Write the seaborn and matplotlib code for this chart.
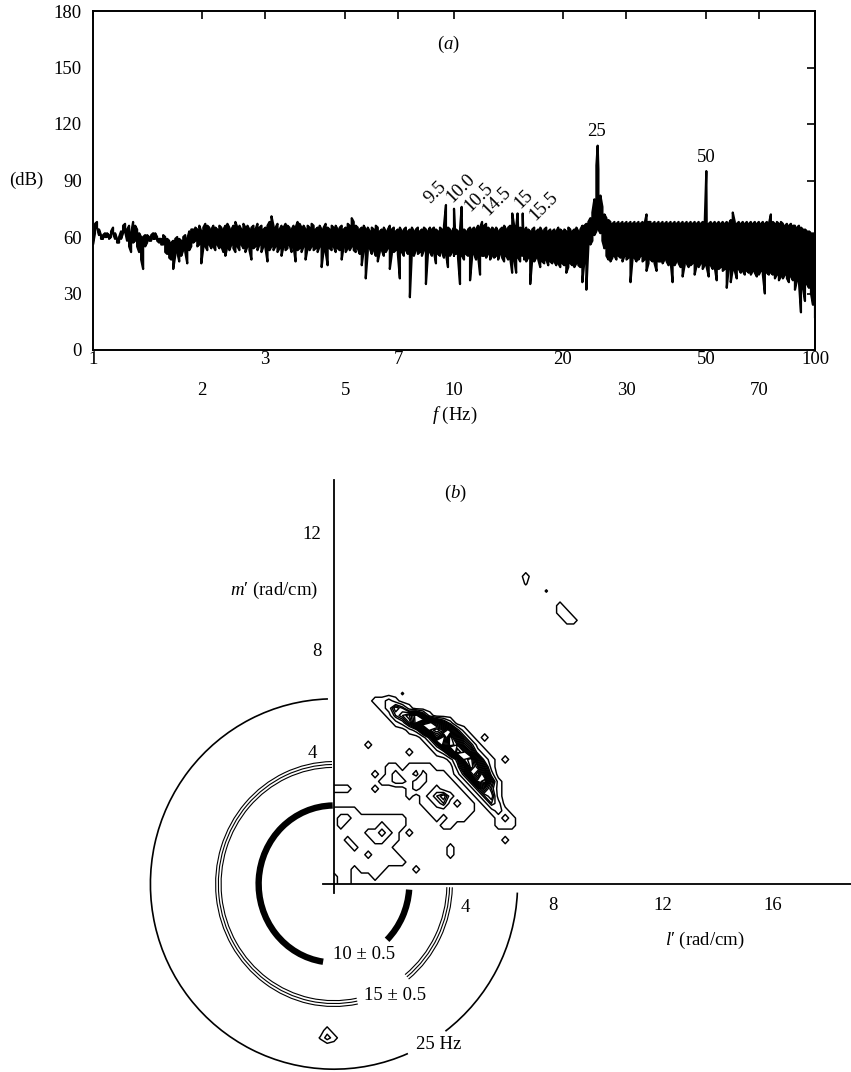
import numpy as np
import pandas as pd
import matplotlib
matplotlib.use("Agg")
import matplotlib.pyplot as plt
from matplotlib.patches import Arc
import seaborn as sns

# ---------------------------------------------------------------
# (a) frequency spectrum of the surface elevation
#     each log-spaced bin keeps its upper and lower level (dB)
# ---------------------------------------------------------------
F_MIN, F_MAX, N_BINS = 1.0, 100.0, 361

spectrum_hi = [
    60, 67, 68, 64, 61, 61, 62, 62, 61, 63,
    65, 62, 59, 60, 63, 66, 67, 64, 66, 62,
    68, 66, 64, 62, 60, 60, 61, 61, 60, 61,
    62, 62, 60, 59, 59, 61, 60, 59, 58, 57,
    58, 59, 60, 59, 58, 60, 61, 59, 63, 64,
    64, 65, 64, 66, 63, 65, 67, 66, 65, 64,
    66, 65, 64, 66, 65, 64, 66, 67, 65, 64,
    66, 68, 65, 66, 64, 67, 65, 66, 64, 65,
    66, 64, 67, 65, 66, 64, 65, 66, 68, 71,
    66, 65, 67, 64, 66, 65, 67, 66, 65, 64,
    66, 65, 68, 67, 65, 66, 64, 66, 65, 67,
    66, 64, 65, 66, 64, 65, 67, 65, 64, 66,
    65, 66, 64, 65, 66, 64, 65, 67, 66, 70,
    68, 66, 65, 64, 65, 66, 64, 65, 63, 65,
    64, 66, 65, 63, 64, 65, 63, 64, 66, 64,
    65, 63, 64, 65, 63, 64, 65, 63, 64, 65,
    63, 64, 65, 63, 64, 65, 64, 63, 65, 64,
    65, 64, 63, 65, 64, 66, 64, 65, 64, 63,
    65, 64, 63, 64, 65, 64, 63, 64, 65, 64,
    65, 64, 66, 65, 68, 66, 67, 65, 64, 65,
    64, 65, 63, 64, 65, 66, 64, 65, 66, 65,
    66, 65, 64, 65, 64, 63, 65, 64, 63, 64,
    65, 63, 64, 65, 63, 64, 65, 63, 64, 63,
    64, 63, 65, 64, 63, 64, 63, 65, 64, 63,
    64, 65, 63, 64, 66, 66, 67, 68, 70, 73,
    80, 98, 96, 82, 76, 72, 70, 69, 68, 67,
    68, 67, 68, 67, 68, 67, 68, 67, 68, 67,
    68, 67, 68, 67, 68, 67, 72, 68, 68, 67,
    68, 67, 68, 67, 68, 67, 68, 67, 68, 67,
    68, 67, 68, 67, 68, 67, 68, 67, 68, 67,
    68, 67, 68, 67, 68, 67, 68, 67, 68, 67,
    68, 67, 68, 67, 68, 67, 68, 67, 69, 73,
    68, 67, 68, 67, 68, 67, 68, 67, 68, 67,
    68, 67, 68, 67, 68, 67, 68, 67, 72, 68,
    67, 68, 67, 68, 67, 66, 67, 66, 67, 66,
    66, 65, 66, 65, 64, 64, 63, 63, 62, 62, 61,
]

spectrum_lo = [
    56, 62, 65, 61, 59, 59, 60, 60, 59, 60,
    62, 59, 57, 57, 59, 62, 63, 58, 55, 52,
    57, 58, 55, 52, 48, 43, 55, 57, 58, 58,
    59, 59, 58, 57, 56, 56, 52, 51, 49, 48,
    43, 50, 52, 47, 50, 53, 52, 46, 53, 55,
    57, 58, 55, 56, 46, 54, 55, 53, 56, 54,
    55, 53, 56, 54, 55, 52, 50, 55, 53, 56,
    54, 52, 55, 53, 56, 54, 52, 55, 53, 48,
    54, 55, 53, 56, 52, 55, 54, 47, 53, 55,
    53, 55, 52, 54, 50, 55, 53, 54, 56, 52,
    55, 47, 53, 54, 52, 55, 48, 54, 53, 55,
    53, 54, 52, 55, 44, 53, 52, 45, 54, 53,
    55, 52, 54, 53, 48, 55, 52, 54, 53, 55,
    53, 52, 54, 51, 45, 53, 38, 52, 54, 51,
    53, 50, 47, 52, 53, 50, 52, 54, 43, 51,
    52, 53, 51, 38, 52, 50, 53, 51, 28, 52,
    50, 53, 51, 52, 50, 53, 35, 51, 52, 50,
    52, 46, 51, 50, 52, 49, 51, 44, 50, 52,
    50, 51, 49, 35, 50, 48, 51, 50, 37, 49,
    51, 48, 50, 40, 50, 50, 49, 51, 48, 50,
    49, 50, 48, 51, 49, 47, 50, 48, 49, 41,
    48, 41, 49, 47, 50, 48, 47, 49, 35, 48,
    47, 49, 48, 44, 47, 46, 48, 45, 47, 46,
    47, 45, 46, 44, 46, 45, 41, 44, 46, 45,
    44, 46, 45, 44, 36, 47, 32, 55, 56, 58,
    61, 63, 64, 62, 58, 54, 50, 48, 47, 49,
    50, 48, 50, 49, 47, 50, 48, 49, 36, 48,
    49, 47, 48, 50, 47, 48, 42, 46, 48, 47,
    46, 42, 47, 47, 46, 48, 47, 45, 47, 36,
    45, 47, 46, 44, 39, 45, 46, 44, 45, 46,
    40, 45, 44, 46, 43, 45, 44, 39, 45, 43,
    44, 37, 43, 44, 42, 43, 33, 44, 36, 43,
    42, 38, 43, 41, 42, 40, 42, 41, 40, 42,
    41, 39, 40, 42, 40, 30, 41, 40, 41, 40,
    38, 40, 37, 39, 38, 40, 38, 36, 39, 37,
    32, 37, 36, 20, 33, 26, 35, 33, 30, 24, 17,
]

# discrete spectral lines
peak_freqs = [9.5, 10.0, 10.5, 14.5, 15.0, 15.5, 25.0, 50.0]
peak_db = [77, 75, 76, 72.5, 72.5, 72.5, 108.5, 95]
peak_labels = ["9.5", "10.0", "10.5", "14.5", "15", "15.5", "25", "50"]

freq_row1 = [1, 3, 7, 20, 50, 100]
freq_row2 = [2, 5, 10, 30, 70]
db_ticks = [0, 30, 60, 90, 120, 150, 180]

# ---------------------------------------------------------------
# (b) wavenumber spectrum (l', m') and dispersion rings
# ---------------------------------------------------------------
# wavenumber grid, 0.25 rad/cm spacing, rows listed from m' = 7.0 down to 0
K_STEP = 0.25
wn_levels = {".": 0.0, "a": 0.6}
wn_main = [
    ".............................",
    ".............................",
    "..........a..................",
    "......1121...................",
    ".......12431.................",
    "........1345741..............",
    ".........124798642...........",
    "...........125898631.........",
    ".............13759631.1......",
    ".....1........13698531.......",
    "...........1...12598521......",
    ".................1389521.1...",
    "........11.1111...259741.....",
    "......1.1211.2111.137962.....",
    ".......11221221111.137841....",
    "111...1....12112111.13531....",
    "...........1.1234211.1341....",
    ".............11231.11.132....",
    "1111..........1111111..121...",
    "12211111111....1.111....121..",
    "12111112111.....11......111..",
    "1111122321.1.................",
    "11.1112211...............1...",
    "111.11111........1...........",
    "11111.1111.......1...........",
    "11111111111..................",
    "111.1111....1................",
    "211...1......................",
    "211..........................",
]
wn_main_origin = (0.0, 0.0)

wn_far = [
    "............",
    "............",
    "..1.........",
    "..a.........",
    ".....a......",
    "............",
    ".......1....",
    ".......11...",
    "........11..",
    "............",
]
wn_far_origin = (6.5, 8.75)

wn_low = [
    ".....",
    "..1..",
    ".a21.",
    ".....",
    ".....",
]
wn_low_origin = (-0.75, -5.75)

contour_levels = [0.5, 1.5, 2.5, 3.0, 3.5, 4.0, 4.5, 5.0, 5.5, 6.0, 6.5,
                  7.0, 7.5, 8.0, 8.5]

# dispersion rings (semi-axes in rad/cm) with the frequency they mark
ring_labels = ["10 ± 0.5", "15 ± 0.5", "25 Hz"]
ring_rx = [[2.75], [4.12, 4.22, 4.32], [6.70]]
ring_ry = [[2.68], [3.98, 4.08, 4.18], [6.32]]
ring_spans = [[(91, 261.5), (315.5, 356)],
              [(91, 282), (310, 358.5)],
              [(92, 295), (309, 357.5)]]

l_ticks = [8, 12, 16]
m_ticks = [8, 12]


def grid_from_rows(rows, origin, step):
    z = np.array([[wn_levels[ch] if ch in wn_levels else float(ch) for ch in r]
                  for r in rows[::-1]])
    ny, nx = z.shape
    x = origin[0] + step * np.arange(nx)
    y = origin[1] + step * np.arange(ny)
    return x, y, z


# ---------------------------------------------------------------
# styling
# ---------------------------------------------------------------
sns.set_theme(style="white", context="notebook")
plt.rcParams.update({
    "font.family": ["Liberation Serif", "DejaVu Serif"],
    "mathtext.fontset": "custom",
    "mathtext.rm": "Liberation Serif",
    "mathtext.it": "Liberation Serif:italic",
    "axes.edgecolor": "black",
    "axes.linewidth": 1.4,
    "xtick.color": "black",
    "ytick.color": "black",
    "text.color": "black",
    "figure.facecolor": "white",
})
FS = 13.5

W, H = 851, 1072
fig = plt.figure(figsize=(W / 100, H / 100), dpi=100)

# ---------------------------- (a) ------------------------------
axA = fig.add_axes([93 / W, 1 - 350 / H, 722 / W, 339 / H])
freq_grid = np.geomspace(F_MIN, F_MAX, N_BINS)

# trace each bin from one level to the other, alternating direction
xs, ys = [], []
for i, (f, hi, lo) in enumerate(zip(freq_grid, spectrum_hi, spectrum_lo)):
    xs += [f, f]
    ys += [hi, lo] if i % 2 == 0 else [lo, hi]
f_all = np.concatenate([xs, peak_freqs])
db_all = np.concatenate([ys, peak_db])
order = np.argsort(f_all, kind="stable")
spec = pd.DataFrame({"f": f_all[order], "dB": db_all[order]})
sns.lineplot(data=spec, x="f", y="dB", ax=axA, color="black", lw=1.6,
             estimator=None, sort=False, legend=False)
axA.set_xscale("log")
axA.set_xlim(F_MIN, F_MAX)
axA.set_ylim(0, 180)
axA.set_xlabel("")
axA.set_ylabel("")
axA.set_xticks(freq_row1, labels=[str(v) for v in freq_row1])
axA.set_xticks(freq_row2, labels=[str(v) for v in freq_row2], minor=True)
axA.tick_params(axis="x", which="both", direction="in", top=True,
                length=6, width=1.2, labelsize=FS)
axA.tick_params(axis="x", which="major", pad=1)
axA.tick_params(axis="x", which="minor", pad=23)
axA.set_yticks(db_ticks, labels=[str(v) for v in db_ticks])
axA.tick_params(axis="y", direction="out", length=6, width=1.2, pad=2,
                labelsize=FS)
sec = axA.secondary_yaxis("right")
sec.set_yticks(db_ticks[1:-1])
sec.tick_params(direction="in", length=6, width=1.2, labelright=False)
sec.spines["right"].set_linewidth(1.4)

# peak annotations (offsets in pixels from each spectral line's tip)
label_offsets = [(-10, 12), (7, 21), (17, 10), (-15, 12), (6, 14), (21, 7),
                 (-1, 14), (0, 14)]
label_rot = [45, 45, 45, 45, 45, 45, 0, 0]
for f, d, lab, off, rot in zip(peak_freqs, peak_db, peak_labels,
                               label_offsets, label_rot):
    axA.annotate(lab, xy=(f, d), xytext=off, textcoords="offset pixels",
                 ha="center", va="center", rotation=rot, fontsize=FS)

axA.text(0.493, 0.90, "($a$)", transform=axA.transAxes, ha="center",
         va="center", fontsize=FS)
axA.text(-0.093, 0.5, "(dB)", transform=axA.transAxes, ha="center",
         va="center", fontsize=FS)
axA.text(0.501, -0.192, "$f$ (Hz)", transform=axA.transAxes, ha="center",
         va="center", fontsize=FS)

# ---------------------------- (b) ------------------------------
axB = fig.add_axes([110 / W, 0, 741 / W, 602 / H])
axB.set_xlim(-8.175, 18.87)
axB.set_ylim(-6.416, 14.13)
axB.patch.set_alpha(0)
for s in ("top", "right"):
    axB.spines[s].set_visible(False)
axB.spines["left"].set_position(("data", 0))
axB.spines["bottom"].set_position(("data", 0))
axB.spines["left"].set_bounds(-0.3, 13.8)
axB.spines["bottom"].set_bounds(-0.4, 18.87)
for s in ("left", "bottom"):
    axB.spines[s].set_linewidth(1.3)
axB.set_xticks(l_ticks, labels=[str(v) for v in l_ticks])
axB.set_yticks(m_ticks, labels=[str(v) for v in m_ticks])
axB.tick_params(direction="out", length=6, width=1.1, labelsize=FS, pad=3)
axB.text(4.78, -0.8, "4", ha="center", va="center", fontsize=FS)
axB.text(-0.62, 4.47, "4", ha="right", va="center", fontsize=FS)

for rows, origin in ((wn_main, wn_main_origin), (wn_far, wn_far_origin),
                     (wn_low, wn_low_origin)):
    gx, gy, gz = grid_from_rows(rows, origin, K_STEP)
    axB.contour(gx, gy, gz, levels=contour_levels, colors="black",
                linewidths=1.05)

ring_lw = [4.6, 0.8, 1.2]
for rxs, rys, spans, lw in zip(ring_rx, ring_ry, ring_spans, ring_lw):
    for rx, ry in zip(rxs, rys):
        for t1, t2 in spans:
            axB.add_patch(Arc((0, 0), 2 * rx, 2 * ry, theta1=t1, theta2=t2,
                              lw=lw, color="black"))

ring_label_xy = [(1.08, -2.42), (2.23, -3.79), (3.83, -5.49)]
for lab, (x, y) in zip(ring_labels, ring_label_xy):
    axB.text(x, y, lab, ha="center", va="center", fontsize=FS)

axB.text(4.42, 13.34, "($b$)", ha="center", va="center", fontsize=FS)
axB.text(-0.58, 10.03, "$m$\u2032 (rad/cm)", ha="right", va="center",
         fontsize=FS)
axB.text(13.54, -1.91, "$l$\u2032 (rad/cm)", ha="center", va="center",
         fontsize=FS)

fig.savefig("out.png", dpi=100)
